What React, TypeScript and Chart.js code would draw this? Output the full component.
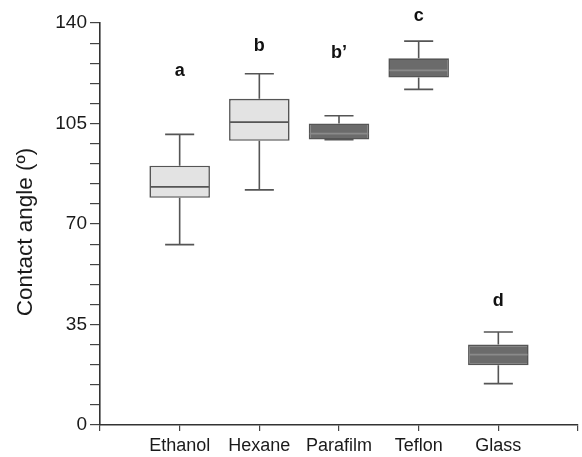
import React, { useEffect, useRef } from "react";
import { Chart, registerables } from "chart.js";

Chart.register(...registerables);

const categories = ["", "Ethanol", "Hexane", "Parafilm", "Teflon", "Glass", ""];
const whiskerLow = [null, 62.8, 81.9, 99.4, 116.9, 14.4, null];
const q1 = [null, 79.1, 99.0, 99.4, 121.0, 20.8, null];
const median = [null, 82.9, 105.5, 101.5, 123.5, 24.5, null];
const q3 = [null, 90.3, 113.6, 105.0, 127.7, 28.0, null];
const whiskerHigh = [null, 101.2, 122.3, 107.7, 133.7, 32.4, null];
const groupLetters = ["", "a", "b", "b\u2019", "c", "d", ""];
const letterValues = [null, 123.2, 131.9, 129.7, 142.6, 43.3, null];
const fillColors = ["#ffffff", "#e3e3e3", "#e3e3e3", "#6b6b6b", "#6b6b6b", "#6b6b6b", "#ffffff"];
const medianColors = ["#555", "#555", "#555", "#8a8a8a", "#8a8a8a", "#8a8a8a", "#555"];
const yTitle = "Contact angle (\u00ba)";

const FONT = "'Liberation Sans', Arial, sans-serif";

const boxPlugin = {
  id: "boxExtras",
  afterDatasetsDraw(chart: any) {
    const { ctx, scales } = chart;
    const xs = scales.x;
    const ys = scales.y;
    const meta = chart.getDatasetMeta(0);
    ctx.save();
    for (let i = 0; i < categories.length; i++) {
      if (q1[i] == null) continue;
      const x = xs.getPixelForValue(i);
      const bar = meta.data[i];
      const half = bar ? bar.width / 2 : 30;
      const capHalf = half * 0.48;
      ctx.strokeStyle = "#555";
      ctx.lineWidth = 1.6;
      ctx.beginPath();
      ctx.moveTo(x, ys.getPixelForValue(q3[i] as number));
      ctx.lineTo(x, ys.getPixelForValue(whiskerHigh[i] as number));
      ctx.moveTo(x, ys.getPixelForValue(q1[i] as number));
      ctx.lineTo(x, ys.getPixelForValue(whiskerLow[i] as number));
      const yh = ys.getPixelForValue(whiskerHigh[i] as number);
      const yl = ys.getPixelForValue(whiskerLow[i] as number);
      ctx.moveTo(x - capHalf, yh);
      ctx.lineTo(x + capHalf, yh);
      ctx.moveTo(x - capHalf, yl);
      ctx.lineTo(x + capHalf, yl);
      ctx.stroke();
      ctx.strokeStyle = medianColors[i];
      ctx.lineWidth = 1.8;
      ctx.beginPath();
      const ym = ys.getPixelForValue(median[i] as number);
      ctx.moveTo(x - half + 1, ym);
      ctx.lineTo(x + half - 1, ym);
      ctx.stroke();
      ctx.fillStyle = "#111";
      ctx.font = "bold 18px " + FONT;
      ctx.textAlign = "center";
      ctx.textBaseline = "middle";
      ctx.fillText(groupLetters[i], x, ys.getPixelForValue(letterValues[i] as number));
    }
    // y axis title
    const cy = (chart.chartArea.top + chart.chartArea.bottom) / 2 + 8;
    ctx.translate(26, cy);
    ctx.rotate(-Math.PI / 2);
    ctx.fillStyle = "#1a1a1a";
    ctx.font = "22.5px " + FONT;
    ctx.textAlign = "center";
    ctx.textBaseline = "middle";
    ctx.fillText(yTitle, 0, 0);
    ctx.restore();
  },
};

export default function App() {
  const ref = useRef<HTMLCanvasElement>(null);
  useEffect(() => {
    if (!ref.current) return;
    const chart = new Chart(ref.current, {
      type: "bar",
      data: {
        labels: categories,
        datasets: [
          {
            data: categories.map((_, i) => (q1[i] == null ? null : [q1[i], q3[i]])) as any,
            backgroundColor: fillColors,
            borderColor: "#555",
            borderWidth: 1.6,
            borderSkipped: false,
            categoryPercentage: 1,
            barPercentage: 0.76,
          },
        ],
      },
      options: {
        animation: false,
        responsive: false,
        maintainAspectRatio: false,
        plugins: { legend: { display: false }, tooltip: { enabled: false } },
        layout: { padding: { top: 23, right: 2, left: 0, bottom: 0 } },
        scales: {
          x: {
            offset: false,
            afterFit: (s: any) => {
              s.height = 32;
            },
            grid: {
              display: true,
              offset: false,
              drawOnChartArea: false,
              drawTicks: true,
              tickLength: 6,
              color: "#444",
              lineWidth: 1.2,
            },
            border: { display: true, color: "#333", width: 1.6 },
            ticks: {
              color: "#1a1a1a",
              font: { family: FONT, size: 18 },
              padding: 4,
              maxRotation: 0,
              autoSkip: false,
            },
          },
          y: {
            min: 0,
            max: 140,
            afterFit: (s: any) => {
              s.width = 100;
            },
            grid: {
              display: true,
              drawOnChartArea: false,
              drawTicks: true,
              tickLength: 10,
              color: "#444",
              lineWidth: 1.2,
            },
            border: { display: true, color: "#333", width: 1.6 },
            ticks: {
              stepSize: 7,
              autoSkip: false,
              color: "#1a1a1a",
              padding: 3,
              font: { family: FONT, size: 19 },
              callback: (v: any) => (Number(v) % 35 === 0 ? String(v) : ""),
            },
            title: { display: false },
          },
        },
      },
      plugins: [boxPlugin],
    });
    return () => chart.destroy();
  }, []);
  return (
    <div style={{ position: "fixed", left: 0, top: 0, width: 582, height: 457, background: "#fff" }}>
      <canvas ref={ref} width={582} height={457} style={{ display: "block" }} />
    </div>
  );
}
